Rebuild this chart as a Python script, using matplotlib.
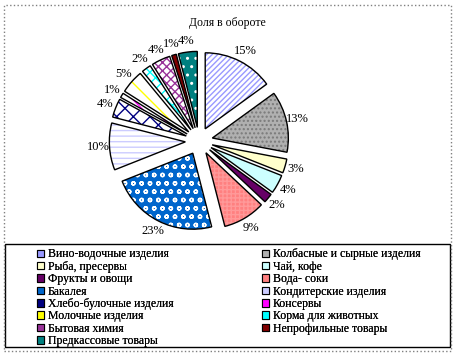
import matplotlib
matplotlib.use("Agg")
import matplotlib.pyplot as plt
import matplotlib.patches as mpatches

plt.rcParams['font.family'] = ['Liberation Serif', 'DejaVu Serif']
plt.rcParams['hatch.linewidth'] = 1.0

categories = [
    "Вино-водочные изделия",
    "Колбасные и сырные изделия",
    "Рыба, пресервы",
    "Чай, кофе",
    "Фрукты и овощи",
    "Вода- соки",
    "Бакалея",
    "Кондитерские изделия",
    "Хлебо-булочные изделия",
    "Консервы",
    "Молочные изделия",
    "Корма для животных",
    "Бытовая химия",
    "Непрофильные товары",
    "Предкассовые товары",
]
shares = [15, 13, 3, 4, 2, 9, 23, 10, 4, 1, 5, 2, 4, 1, 4]

face_colors = ["white", "#b0b0b0", "#ffffcc", "#ccffff", "#660066", "#ff8080",
               "#0066cc", "white", "white", "white", "white", "white",
               "white", "#800000", "#008080"]
hatch_colors = ["#9999ff", "#7a7a7a", "#ffffcc", "#ccffff", "#660066", "#ff9999",
                "white", "#ccccff", "#000080", "#ff00ff", "#ffff00", "#00ffff",
                "#993399", "#800000", "white"]
hatches = ["//////", "....", None, None, None, "++++",
           "oo", "---", "xx", "\\\\\\", "\\\\", "xxx",
           "xxxx", None, ".."]

W, H = 456, 355
fig = plt.figure(figsize=(W / 100, H / 100), dpi=100)

# pie centre and radius in pixels
cx, cy, R = 199, 141, 76
half = 1.6
ax = fig.add_axes([(cx - R * half) / W, (H - cy - R * half) / H,
                   2 * R * half / W, 2 * R * half / H])

explode = [0.18] * len(shares)

# pass 1: fills and patterns
wedges, _ = ax.pie(shares, explode=explode, startangle=90, counterclock=False,
                   colors=face_colors, radius=1)
for w, hc, h in zip(wedges, hatch_colors, hatches):
    w.set_edgecolor(hc)
    w.set_linewidth(0)
    if h:
        w.set_hatch(h)

# pass 2: black outlines and percent labels
ax.pie(shares, explode=explode, startangle=90, counterclock=False, radius=1,
       autopct='%.0f%%', pctdistance=1.15,
       wedgeprops=dict(fill=False, edgecolor="black", linewidth=1),
       textprops=dict(fontsize=9))

ax.set_xlim(-half, half)
ax.set_ylim(-half, half)
ax.set_axis_off()

fig.text(227 / W, 1 - 23 / H, "Доля в обороте", ha="center", va="center", fontsize=8.5)

# legend box
fig.patches.append(mpatches.Rectangle((5 / W, 8 / H), 445 / W, 103 / H,
                                      transform=fig.transFigure, fill=False,
                                      edgecolor="black", linewidth=1))

handles = []
for fc, hc in zip(face_colors, hatch_colors):
    lc = hc if fc == "white" else fc
    handles.append(mpatches.Patch(facecolor=lc, edgecolor="black", linewidth=0.8))

# two columns, filled row by row
for col, x0 in enumerate([37, 262]):
    idx = list(range(col, len(categories), 2))
    leg = fig.legend([handles[i] for i in idx], [categories[i] for i in idx],
                     loc="upper left", bbox_to_anchor=(x0 / W, 1 - 248.5 / H),
                     fontsize=8.5, frameon=False,
                     handlelength=0.6, handleheight=0.6, handletextpad=0.3,
                     labelspacing=0.03, borderpad=0, borderaxespad=0)
    fig.add_artist(leg)

# outer dotted chart border
fig.patches.append(mpatches.Rectangle((4 / W, 4 / H), 447 / W, 346 / H,
                                      transform=fig.transFigure, fill=False,
                                      edgecolor="gray", linestyle=":", linewidth=1))

fig.savefig("out.png", dpi=100)
